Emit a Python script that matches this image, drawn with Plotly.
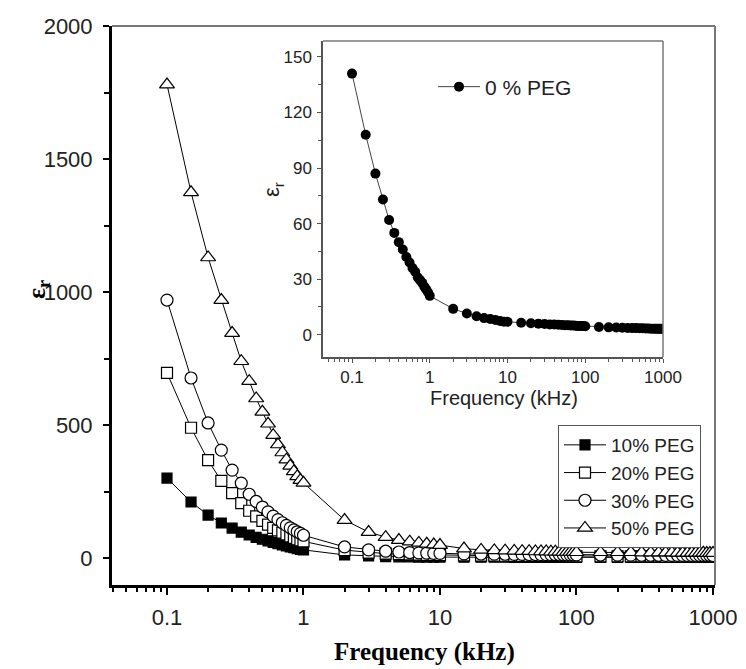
import plotly.graph_objects as go

W, H = 746, 669

freq = [0.1, 0.15, 0.2, 0.25, 0.3, 0.35, 0.4, 0.45, 0.5, 0.55, 0.6, 0.65, 0.7, 0.75, 0.8, 0.85, 0.9, 0.95, 1.0,
        2, 3, 4, 5, 6, 7, 8, 9, 10,
        15, 20, 25, 30, 35, 40, 45, 50, 55, 60, 65, 70, 75, 80, 85, 90, 95, 100,
        150, 200, 250, 300, 350, 400, 450, 500, 550, 600, 650, 700, 750, 800, 850, 900, 950, 1000]

eps_10 = [301, 211, 162, 132, 113, 98, 87, 78, 71, 65, 59, 54, 50, 46, 42, 39, 36, 33, 31,
          12, 8, 6, 5, 5, 4, 4, 4, 4,
          3.5, 3.4, 3.3, 3.3, 3.2, 3.2, 3.1, 3.1, 3.0, 3.0, 3.0, 2.9, 2.9, 2.9, 2.8, 2.8, 2.8, 2.8,
          2.7, 2.7, 2.6, 2.6, 2.6, 2.5, 2.5, 2.5, 2.5, 2.4, 2.4, 2.4, 2.4, 2.4, 2.3, 2.3, 2.3, 2.3]

eps_20 = [696, 490, 368, 290, 244, 207, 178, 157, 140, 126, 114, 104, 96, 89, 82, 76, 71, 67, 63,
          30, 21, 17, 15, 14, 13, 12, 12, 11,
          10, 9.5, 9.2, 8.9, 8.6, 8.4, 8.2, 8.0, 7.9, 7.8, 7.6, 7.5, 7.4, 7.3, 7.2, 7.1, 7.0, 7.0,
          6.8, 6.6, 6.5, 6.4, 6.3, 6.3, 6.2, 6.2, 6.1, 6.1, 6.0, 6.0, 6.0, 5.9, 5.9, 5.9, 5.8, 5.8]

eps_30 = [970, 677, 508, 406, 331, 282, 240, 213, 192, 174, 158, 145, 133, 123, 114, 106, 99, 93, 86,
          42, 31, 26, 23, 21, 20, 19, 18, 18,
          16, 15.5, 15, 14.6, 14.2, 14, 13.7, 13.5, 13.3, 13.1, 12.9, 12.8, 12.6, 12.5, 12.4, 12.3, 12.2, 12.1,
          11.6, 11.3, 11.1, 10.9, 10.8, 10.7, 10.6, 10.5, 10.4, 10.3, 10.3, 10.2, 10.2, 10.1, 10.1, 10.0, 10.0, 9.9]

eps_50 = [1780, 1375, 1130, 970, 846, 740, 665, 600, 550, 505, 462, 427, 397, 370, 347, 326, 307, 293, 283,
          143, 98, 79, 68, 62, 57, 54, 51, 49,
          36, 31, 29, 28, 27, 26, 26, 25, 25, 25, 24, 24, 24, 23, 23, 23, 23, 22,
          22, 22, 22, 21, 21, 21, 21, 21, 20, 20, 20, 20, 20, 20, 20, 19, 19, 19]

eps_0 = [141, 108, 87, 73, 62, 55, 50, 46, 42, 39, 36, 34, 31, 29.5, 28, 26, 24.5, 23, 21,
         14, 11.5, 10, 9, 8.5, 8, 7.5, 7, 7,
         6.5, 6.2, 6.0, 5.8, 5.6, 5.5, 5.4, 5.3, 5.2, 5.1, 5.0, 5.0, 4.9, 4.8, 4.8, 4.7, 4.7, 4.6,
         4.2, 4.0, 3.9, 3.8, 3.7, 3.6, 3.6, 3.5, 3.5, 3.4, 3.4, 3.3, 3.3, 3.3, 3.2, 3.2, 3.2, 3.1]

x_major = [0.1, 1, 10, 100, 1000]
x_major_text = ["0.1", "1", "10", "100", "1000"]
x_minor = [0.04, 0.05, 0.06, 0.07, 0.08, 0.09,
           0.2, 0.3, 0.4, 0.5, 0.6, 0.7, 0.8, 0.9,
           2, 3, 4, 5, 6, 7, 8, 9,
           20, 30, 40, 50, 60, 70, 80, 90,
           200, 300, 400, 500, 600, 700, 800, 900]
y_main_major = [0, 500, 1000, 1500, 2000]
y_inset_major = [0, 30, 60, 90, 120, 150]

main_series = [
    ("10% PEG", eps_10, "square", "black", 10),
    ("20% PEG", eps_20, "square", "white", 11),
    ("30% PEG", eps_30, "circle", "white", 12),
    ("50% PEG", eps_50, "triangle-up", "white", 13),
]

SANS = "Liberation Sans, Arial, sans-serif"
SERIF = "Liberation Serif, Times New Roman, serif"

fig = go.Figure()

for name, vals, sym, fill, size in main_series:
    fig.add_trace(go.Scatter(
        x=freq, y=vals, name=name, mode="lines+markers",
        line=dict(color="black", width=1),
        marker=dict(symbol=sym, color=fill, size=size, line=dict(color="black", width=1.2)),
        xaxis="x", yaxis="y", legend="legend",
    ))

fig.add_trace(go.Scatter(
    x=freq, y=eps_0, name="0 % PEG", mode="lines+markers",
    line=dict(color="#444", width=1),
    marker=dict(symbol="circle", color="black", size=10, line=dict(color="black", width=0)),
    xaxis="x2", yaxis="y2", legend="legend2",
))

def px_x(v):
    return v / W

def px_y(v):
    return 1 - v / H

fig.update_layout(
    width=W, height=H,
    margin=dict(l=0, r=0, t=0, b=0),
    paper_bgcolor="white", plot_bgcolor="white",
    font=dict(family=SANS, color="black"),
    xaxis=dict(
        type="log", range=[-1.403, 3.015], domain=[px_x(112), px_x(715)],
        showgrid=False, zeroline=False, automargin=False,
        showline=True, linecolor="black", linewidth=3,
        ticks="outside", ticklen=7, tickwidth=2, tickcolor="black",
        tickvals=x_major, ticktext=x_major_text,
        tickfont=dict(size=22, family=SANS, color="#222"),
        ticklabelstandoff=4,
        minor=dict(ticks="outside", ticklen=4, tickwidth=1.5, tickcolor="black",
                   tickvals=x_minor, showgrid=False),
        anchor="y",
    ),
    yaxis=dict(
        range=[-101, 2000], domain=[px_y(585), px_y(26)],
        showgrid=False, zeroline=False, automargin=False,
        showline=True, linecolor="black", linewidth=3,
        ticks="outside", ticklen=6, tickwidth=2, tickcolor="black",
        tickvals=y_main_major,
        tickfont=dict(size=22, family=SANS, color="#222"),
        ticklabelstandoff=6,
        minor=dict(ticks="outside", ticklen=5, tickwidth=2, tickcolor="black", dtick=250, showgrid=False),
        anchor="x",
    ),
    xaxis2=dict(
        type="log", range=[-1.373, 3.0], domain=[px_x(323), px_x(663)],
        showgrid=False, zeroline=False, automargin=False,
        showline=True, linecolor="#555", linewidth=1.5,
        ticks="outside", ticklen=4, tickwidth=1, tickcolor="#555",
        tickvals=x_major, ticktext=x_major_text,
        tickfont=dict(size=17, family=SANS, color="#222"),
        ticklabelstandoff=0,
        minor=dict(ticks="outside", ticklen=3, tickwidth=1, tickcolor="#555",
                   tickvals=x_minor, showgrid=False),
        anchor="y2",
    ),
    yaxis2=dict(
        range=[-12, 158.6], domain=[px_y(357), px_y(41)],
        showgrid=False, zeroline=False, automargin=False,
        showline=True, linecolor="#555", linewidth=1.5,
        ticks="outside", ticklen=4, tickwidth=1, tickcolor="#555",
        tickvals=y_inset_major,
        tickfont=dict(size=17, family=SANS, color="#222"),
        ticklabelstandoff=2,
        minor=dict(ticks="outside", ticklen=3, tickwidth=1, tickcolor="#555", dtick=15, showgrid=False),
        anchor="x2",
    ),
    legend=dict(
        x=px_x(558), y=px_y(425), xanchor="left", yanchor="top",
        bgcolor="white", bordercolor="#555", borderwidth=1,
        font=dict(size=19, family=SANS, color="#222"),
        tracegroupgap=0, itemwidth=42,
    ),
    legend2=dict(
        x=px_x(433), y=px_y(87), xanchor="left", yanchor="middle",
        bgcolor="rgba(0,0,0,0)", borderwidth=0,
        font=dict(size=21, family=SANS, color="#222"),
        itemwidth=42,
    ),
    showlegend=True,
    shapes=[
        dict(type="line", xref="paper", yref="paper", x0=px_x(112), x1=px_x(715), y0=px_y(26), y1=px_y(26),
             line=dict(color="#777", width=2)),
        dict(type="line", xref="paper", yref="paper", x0=px_x(715), x1=px_x(715), y0=px_y(26), y1=px_y(585),
             line=dict(color="#777", width=2)),
        dict(type="line", xref="paper", yref="paper", x0=px_x(323), x1=px_x(663), y0=px_y(41), y1=px_y(41),
             line=dict(color="#777", width=1.5)),
        dict(type="line", xref="paper", yref="paper", x0=px_x(663), x1=px_x(663), y0=px_y(41), y1=px_y(357),
             line=dict(color="#777", width=1.5)),
    ],
    annotations=[
        dict(text="<b>Frequency (kHz)</b>", xref="paper", yref="paper", x=px_x(424), y=px_y(652),
             showarrow=False, font=dict(family=SERIF, size=25, color="black"),
             xanchor="center", yanchor="middle"),
        dict(text="<b>ε<sub>r</sub></b>", xref="paper", yref="paper", x=px_x(38), y=px_y(290),
             showarrow=False, textangle=-90, font=dict(family=SERIF, size=26, color="black"),
             xanchor="center", yanchor="middle"),
        dict(text="Frequency (kHz)", xref="paper", yref="paper", x=px_x(504), y=px_y(398),
             showarrow=False, font=dict(family=SANS, size=20, color="#222"),
             xanchor="center", yanchor="middle"),
        dict(text="ε<sub>r</sub>", xref="paper", yref="paper", x=px_x(273), y=px_y(190),
             showarrow=False, textangle=-90, font=dict(family=SANS, size=22, color="#222"),
             xanchor="center", yanchor="middle"),
    ],
)

fig.write_html("out.html")
